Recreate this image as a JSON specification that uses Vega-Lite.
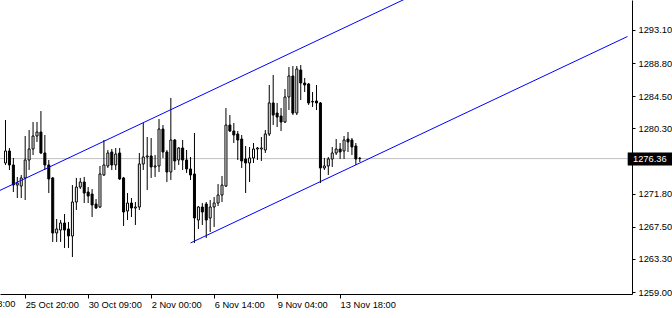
{
  "$schema": "https://vega.github.io/schema/vega-lite/v6.json",
  "width": 632,
  "height": 294,
  "autosize": {"type": "none"},
  "padding": {"left": 0, "top": 0, "right": 40, "bottom": 24},
  "background": "white",
  "config": {"view": {"stroke": null}, "font": "Liberation Sans"},
  "datasets": {
    "candles": [
      {"k":0,"o":1275.79,"h":1281.38,"l":1275.53,"c":1277.35},
      {"k":1,"o":1277.35,"h":1277.74,"l":1274.88,"c":1275.53},
      {"k":2,"o":1275.53,"h":1276.44,"l":1272.01,"c":1272.92},
      {"k":3,"o":1272.92,"h":1273.97,"l":1271.23,"c":1273.18},
      {"k":4,"o":1272.79,"h":1274.23,"l":1271.23,"c":1273.84},
      {"k":5,"o":1273.84,"h":1279.30,"l":1270.97,"c":1276.18},
      {"k":6,"o":1276.18,"h":1280.08,"l":1274.88,"c":1277.61},
      {"k":7,"o":1277.61,"h":1281.12,"l":1276.83,"c":1279.30},
      {"k":8,"o":1279.30,"h":1281.12,"l":1278.52,"c":1279.82},
      {"k":9,"o":1279.82,"h":1282.55,"l":1276.96,"c":1277.09},
      {"k":10,"o":1277.09,"h":1279.43,"l":1274.88,"c":1275.53},
      {"k":11,"o":1275.53,"h":1276.18,"l":1271.88,"c":1273.71},
      {"k":12,"o":1273.84,"h":1273.97,"l":1265.51,"c":1266.68},
      {"k":13,"o":1266.68,"h":1268.50,"l":1265.51,"c":1267.20},
      {"k":14,"o":1267.07,"h":1268.37,"l":1265.51,"c":1267.98},
      {"k":15,"o":1267.98,"h":1269.15,"l":1264.73,"c":1267.07},
      {"k":16,"o":1267.20,"h":1268.11,"l":1264.73,"c":1266.29},
      {"k":17,"o":1266.29,"h":1272.92,"l":1263.55,"c":1270.71},
      {"k":18,"o":1270.71,"h":1273.84,"l":1269.67,"c":1272.66},
      {"k":19,"o":1272.66,"h":1273.84,"l":1272.40,"c":1273.31},
      {"k":20,"o":1273.31,"h":1273.97,"l":1270.58,"c":1271.88},
      {"k":21,"o":1272.01,"h":1272.66,"l":1270.58,"c":1271.49},
      {"k":22,"o":1271.75,"h":1272.40,"l":1268.76,"c":1270.32},
      {"k":23,"o":1270.45,"h":1271.10,"l":1269.80,"c":1269.93},
      {"k":24,"o":1270.06,"h":1275.40,"l":1269.93,"c":1274.36},
      {"k":25,"o":1274.23,"h":1278.78,"l":1274.10,"c":1275.53},
      {"k":26,"o":1275.40,"h":1277.48,"l":1275.14,"c":1277.09},
      {"k":27,"o":1277.22,"h":1277.61,"l":1274.88,"c":1275.53},
      {"k":28,"o":1275.53,"h":1277.74,"l":1274.88,"c":1276.96},
      {"k":29,"o":1277.09,"h":1277.74,"l":1273.58,"c":1273.71},
      {"k":30,"o":1273.84,"h":1273.97,"l":1267.59,"c":1269.41},
      {"k":31,"o":1269.54,"h":1271.88,"l":1268.37,"c":1270.58},
      {"k":32,"o":1270.58,"h":1271.23,"l":1268.76,"c":1269.93},
      {"k":33,"o":1269.93,"h":1270.71,"l":1267.72,"c":1270.06},
      {"k":34,"o":1270.06,"h":1277.09,"l":1269.67,"c":1275.66},
      {"k":35,"o":1275.66,"h":1280.99,"l":1274.88,"c":1276.57},
      {"k":36,"o":1276.57,"h":1279.17,"l":1272.27,"c":1276.70},
      {"k":37,"o":1276.70,"h":1279.04,"l":1273.84,"c":1275.27},
      {"k":38,"o":1275.27,"h":1276.83,"l":1273.97,"c":1275.40},
      {"k":39,"o":1275.40,"h":1281.51,"l":1274.62,"c":1280.21},
      {"k":40,"o":1280.21,"h":1280.73,"l":1276.44,"c":1277.22},
      {"k":41,"o":1277.22,"h":1277.48,"l":1273.31,"c":1274.62},
      {"k":42,"o":1274.62,"h":1284.25,"l":1273.58,"c":1278.78},
      {"k":43,"o":1278.78,"h":1278.91,"l":1274.88,"c":1276.05},
      {"k":44,"o":1276.18,"h":1277.87,"l":1275.53,"c":1277.74},
      {"k":45,"o":1277.74,"h":1278.78,"l":1274.88,"c":1276.18},
      {"k":46,"o":1276.18,"h":1277.48,"l":1274.49,"c":1275.01},
      {"k":47,"o":1275.01,"h":1276.57,"l":1273.58,"c":1274.23},
      {"k":48,"o":1274.36,"h":1279.69,"l":1265.38,"c":1268.63},
      {"k":49,"o":1268.37,"h":1270.19,"l":1267.20,"c":1270.06},
      {"k":50,"o":1270.06,"h":1270.58,"l":1267.72,"c":1269.41},
      {"k":51,"o":1270.45,"h":1270.71,"l":1266.03,"c":1268.37},
      {"k":52,"o":1268.63,"h":1270.97,"l":1266.81,"c":1270.06},
      {"k":53,"o":1270.06,"h":1271.36,"l":1267.46,"c":1270.58},
      {"k":54,"o":1270.58,"h":1273.05,"l":1270.19,"c":1271.62},
      {"k":55,"o":1271.62,"h":1274.10,"l":1270.71,"c":1272.92},
      {"k":56,"o":1272.79,"h":1282.94,"l":1272.66,"c":1280.73},
      {"k":57,"o":1280.73,"h":1282.03,"l":1279.82,"c":1279.95},
      {"k":58,"o":1279.95,"h":1280.99,"l":1278.39,"c":1279.43},
      {"k":59,"o":1279.56,"h":1279.95,"l":1276.18,"c":1278.78},
      {"k":60,"o":1278.91,"h":1279.43,"l":1275.14,"c":1276.05},
      {"k":61,"o":1276.31,"h":1278.00,"l":1271.88,"c":1275.79},
      {"k":62,"o":1275.79,"h":1277.87,"l":1273.31,"c":1276.44},
      {"k":63,"o":1276.44,"h":1278.39,"l":1275.79,"c":1277.61},
      {"k":64,"o":1277.61,"h":1277.87,"l":1276.18,"c":1277.74},
      {"k":65,"o":1277.61,"h":1279.17,"l":1276.05,"c":1277.74},
      {"k":66,"o":1277.48,"h":1280.08,"l":1277.09,"c":1279.56},
      {"k":67,"o":1279.56,"h":1285.94,"l":1279.30,"c":1283.60},
      {"k":68,"o":1283.60,"h":1287.24,"l":1280.73,"c":1282.03},
      {"k":69,"o":1282.29,"h":1283.60,"l":1280.47,"c":1281.77},
      {"k":70,"o":1281.90,"h":1282.94,"l":1279.95,"c":1281.12},
      {"k":71,"o":1281.12,"h":1285.42,"l":1280.99,"c":1284.38},
      {"k":72,"o":1284.38,"h":1288.28,"l":1282.68,"c":1287.11},
      {"k":73,"o":1287.11,"h":1288.41,"l":1282.03,"c":1282.29},
      {"k":74,"o":1282.29,"h":1288.41,"l":1282.03,"c":1288.02},
      {"k":75,"o":1287.89,"h":1288.54,"l":1283.99,"c":1286.20},
      {"k":76,"o":1286.20,"h":1286.85,"l":1285.03,"c":1285.94},
      {"k":77,"o":1286.07,"h":1286.20,"l":1283.34,"c":1283.60},
      {"k":78,"o":1283.73,"h":1285.03,"l":1283.08,"c":1283.80},
      {"k":79,"o":1283.86,"h":1285.94,"l":1282.68,"c":1283.60},
      {"k":80,"o":1283.60,"h":1283.73,"l":1273.18,"c":1275.14},
      {"k":81,"o":1275.14,"h":1276.44,"l":1274.88,"c":1275.40},
      {"k":82,"o":1275.40,"h":1276.57,"l":1274.23,"c":1276.31},
      {"k":83,"o":1276.31,"h":1277.87,"l":1275.27,"c":1277.09},
      {"k":84,"o":1277.09,"h":1278.91,"l":1276.83,"c":1277.61},
      {"k":85,"o":1277.61,"h":1278.39,"l":1276.31,"c":1277.22},
      {"k":86,"o":1277.35,"h":1279.30,"l":1276.31,"c":1278.78},
      {"k":87,"o":1278.91,"h":1279.82,"l":1277.22,"c":1278.52},
      {"k":88,"o":1278.78,"h":1279.04,"l":1276.83,"c":1277.87},
      {"k":89,"o":1278.00,"h":1278.39,"l":1275.53,"c":1276.31},
      {"k":90,"o":1276.40,"h":1276.57,"l":1275.92,"c":1276.36}
    ],
    "trend": [
      {"id":"upper","k":-2,"price":1272.08},
      {"id":"upper","k":102,"price":1297.25},
      {"id":"lower","k":47,"price":1265.38},
      {"id":"lower","k":158,"price":1292.25}
    ],
    "bid": [{"price":1276.36}],
    "prevlabel": [{"k":-11,"label":"23 Oct 08:00"}]
  },
  "layer": [
    {
      "data": {"name": "bid"},
      "mark": {"type": "rule", "color": "#C0C0C0", "strokeWidth": 1},
      "encoding": {
        "y": {"field": "price", "type": "quantitative",
          "scale": {"domain": [1258.74, 1297.0], "nice": false, "zero": false},
          "axis": {
            "orient": "right", "title": null, "grid": false,
            "values": [1259.00, 1263.30, 1267.50, 1271.80, 1280.30, 1284.50, 1288.80, 1293.10],
            "format": ".2f",
            "domainColor": "black", "domainWidth": 1,
            "tickColor": "black", "tickSize": 3, "tickWidth": 1,
            "labelPadding": 3, "labelAlign": "left", "labelBaseline": "middle",
            "labelFont": "Liberation Sans", "labelFontSize": 9.3, "labelColor": "black",
            "labelOverlap": false, "labelFlush": false, "labelBound": false
          }
        }
      }
    },
    {
      "data": {"name": "candles"},
      "mark": {"type": "rule", "color": "black", "strokeWidth": 1, "clip": true},
      "encoding": {
        "x": {"field": "k", "type": "quantitative",
          "scale": {"domain": [-0.125, 157.875], "nice": false, "zero": false},
          "axis": {
            "orient": "bottom", "title": null, "grid": false,
            "values": [5, 21, 37, 53, 69, 85],
            "labelExpr": "datum.value == 5 ? '25 Oct 20:00' : datum.value == 21 ? '30 Oct 09:00' : datum.value == 37 ? '2 Nov 00:00' : datum.value == 53 ? '6 Nov 14:00' : datum.value == 69 ? '9 Nov 04:00' : '13 Nov 18:00'",
            "domainColor": "black", "domainWidth": 1,
            "tickColor": "black", "tickSize": 4, "tickWidth": 1,
            "labelPadding": 2, "labelAlign": "left", "labelBaseline": "top",
            "labelFont": "Liberation Sans", "labelFontSize": 9.3, "labelColor": "black",
            "labelOverlap": false, "labelFlush": false, "labelBound": false
          }
        },
        "y": {"field": "h", "type": "quantitative"},
        "y2": {"field": "l"}
      }
    },
    {
      "data": {"name": "candles"},
      "mark": {"type": "bar", "size": 2, "stroke": "black", "strokeWidth": 1, "clip": true},
      "encoding": {
        "x": {"field": "k", "type": "quantitative"},
        "y": {"field": "o", "type": "quantitative"},
        "y2": {"field": "c"},
        "fill": {"condition": {"test": "datum.c < datum.o", "value": "black"}, "value": "white"}
      }
    },
    {
      "data": {"name": "trend"},
      "mark": {"type": "line", "color": "#0000FF", "strokeWidth": 1, "clip": true},
      "encoding": {
        "x": {"field": "k", "type": "quantitative"},
        "y": {"field": "price", "type": "quantitative"},
        "detail": {"field": "id"}
      }
    },
    {
      "data": {"name": "bid"},
      "mark": {"type": "rect", "color": "black", "yOffset": -6, "y2Offset": 7},
      "encoding": {
        "x": {"datum": 158.05},
        "x2": {"datum": 170},
        "y": {"field": "price", "type": "quantitative"},
        "y2": {"field": "price"}
      }
    },
    {
      "data": {"name": "bid"},
      "mark": {"type": "text", "color": "white", "align": "left", "baseline": "middle", "dx": 6, "font": "Liberation Sans", "fontSize": 9.3},
      "encoding": {
        "x": {"datum": 157.875},
        "y": {"field": "price", "type": "quantitative"},
        "text": {"field": "price", "type": "quantitative", "format": ".2f"}
      }
    },
    {
      "data": {"name": "prevlabel"},
      "mark": {"type": "text", "color": "black", "align": "left", "baseline": "top", "font": "Liberation Sans", "fontSize": 9.3},
      "encoding": {
        "x": {"field": "k", "type": "quantitative"},
        "y": {"datum": 1257.958},
        "text": {"field": "label"}
      }
    }
  ]
}
